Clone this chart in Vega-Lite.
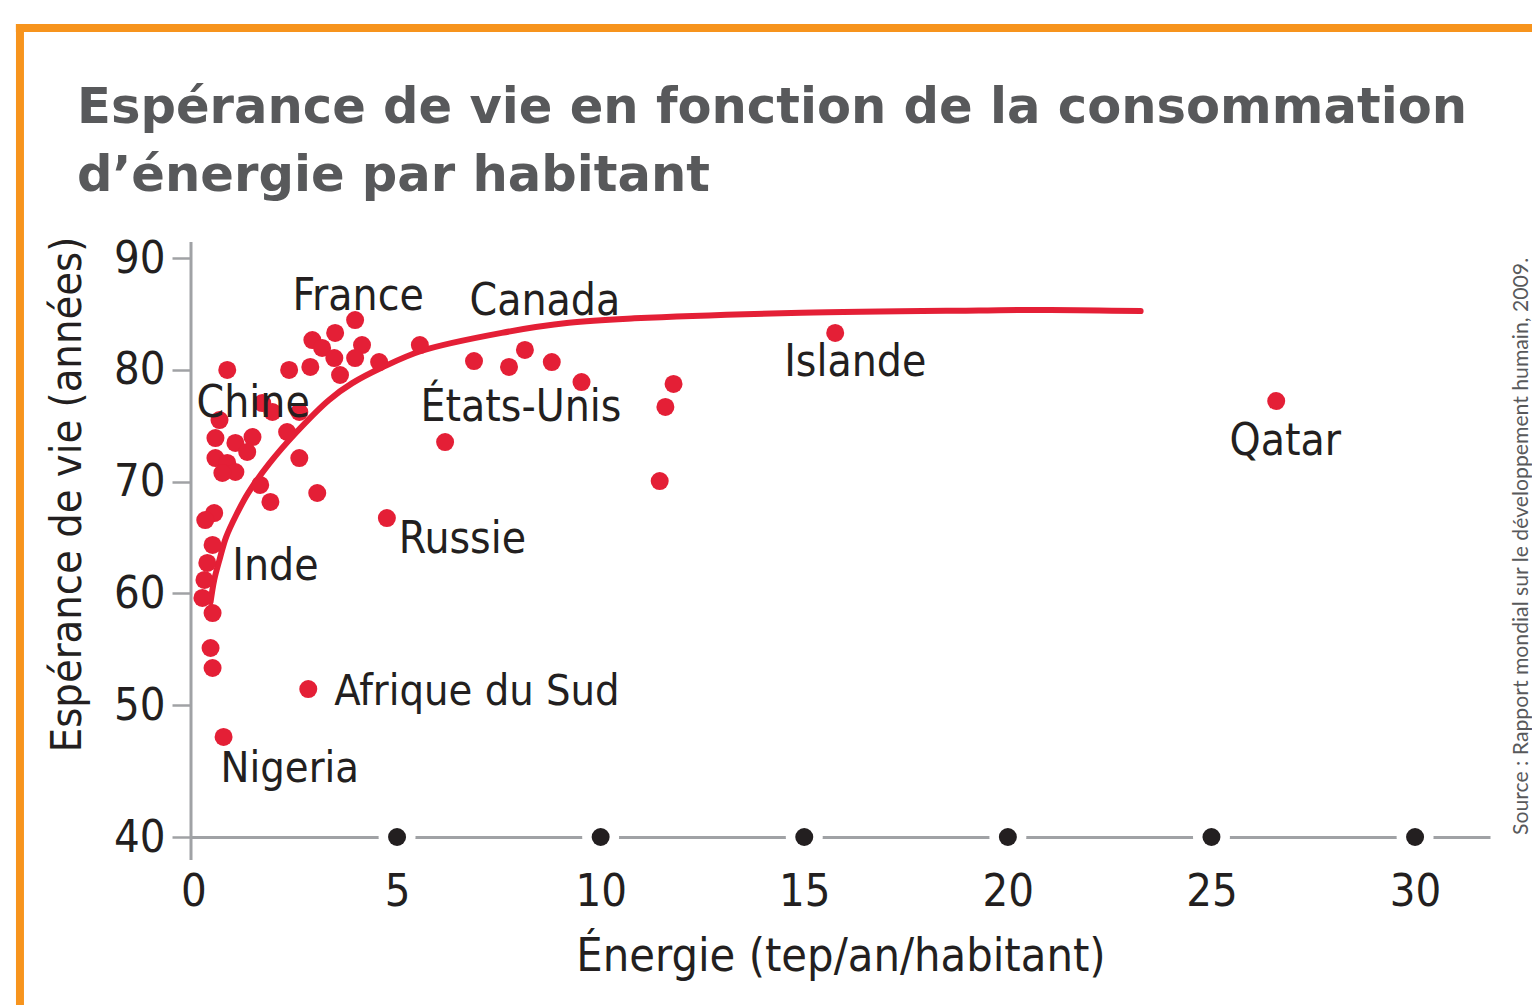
{
  "$schema": "https://vega.github.io/schema/vega-lite/v6.json",
  "width": 1299,
  "height": 579,
  "autosize": {"type": "none"},
  "padding": {"left": 191, "top": 258, "right": 42, "bottom": 168},
  "background": "white",
  "config": {"view": {"stroke": null}},
  "title": {
    "text": ["Espérance de vie en fonction de la consommation", "d’énergie par habitant"],
    "anchor": "start",
    "frame": "group",
    "dx": -114,
    "dy": 182,
    "offset": 0,
    "font": "DejaVu Sans",
    "fontSize": 49.6,
    "fontWeight": "bold",
    "color": "#58595b",
    "lineHeight": 68
  },
  "datasets": {
    "pays": [
      {"x": 3.97, "y": 84.45, "pays": "France"},
      {"x": 3.48, "y": 83.29, "pays": ""},
      {"x": 2.92, "y": 82.66, "pays": ""},
      {"x": 3.16, "y": 81.95, "pays": ""},
      {"x": 4.14, "y": 82.21, "pays": ""},
      {"x": 3.46, "y": 81.05, "pays": ""},
      {"x": 3.97, "y": 81.05, "pays": ""},
      {"x": 3.60, "y": 79.53, "pays": ""},
      {"x": 4.56, "y": 80.69, "pays": ""},
      {"x": 5.56, "y": 82.21, "pays": ""},
      {"x": 2.87, "y": 80.25, "pays": ""},
      {"x": 2.35, "y": 79.98, "pays": ""},
      {"x": 0.83, "y": 79.98, "pays": ""},
      {"x": 1.69, "y": 77.02, "pays": ""},
      {"x": 1.94, "y": 76.22, "pays": ""},
      {"x": 2.60, "y": 76.22, "pays": ""},
      {"x": 0.64, "y": 75.50, "pays": ""},
      {"x": 2.30, "y": 74.43, "pays": ""},
      {"x": 0.54, "y": 73.89, "pays": ""},
      {"x": 1.45, "y": 73.98, "pays": ""},
      {"x": 1.03, "y": 73.45, "pays": ""},
      {"x": 1.32, "y": 72.64, "pays": "Chine"},
      {"x": 0.54, "y": 72.10, "pays": ""},
      {"x": 0.83, "y": 71.66, "pays": ""},
      {"x": 1.03, "y": 70.85, "pays": ""},
      {"x": 0.71, "y": 70.76, "pays": ""},
      {"x": 2.60, "y": 72.10, "pays": ""},
      {"x": 1.64, "y": 69.69, "pays": ""},
      {"x": 1.89, "y": 68.17, "pays": ""},
      {"x": 3.04, "y": 68.97, "pays": ""},
      {"x": 4.75, "y": 66.73, "pays": "Russie"},
      {"x": 0.51, "y": 67.18, "pays": ""},
      {"x": 0.29, "y": 66.55, "pays": ""},
      {"x": 0.47, "y": 64.32, "pays": ""},
      {"x": 0.34, "y": 62.71, "pays": "Inde"},
      {"x": 0.27, "y": 61.19, "pays": ""},
      {"x": 0.22, "y": 59.58, "pays": ""},
      {"x": 0.47, "y": 58.23, "pays": ""},
      {"x": 0.42, "y": 55.10, "pays": ""},
      {"x": 0.47, "y": 53.31, "pays": ""},
      {"x": 2.82, "y": 51.43, "pays": "Afrique du Sud"},
      {"x": 0.74, "y": 47.58, "pays": "Nigeria"},
      {"x": 6.89, "y": 80.78, "pays": ""},
      {"x": 7.75, "y": 80.25, "pays": "États-Unis"},
      {"x": 8.14, "y": 81.77, "pays": "Canada"},
      {"x": 8.80, "y": 80.69, "pays": ""},
      {"x": 9.53, "y": 78.90, "pays": ""},
      {"x": 6.18, "y": 73.53, "pays": ""},
      {"x": 11.79, "y": 78.73, "pays": ""},
      {"x": 11.59, "y": 76.67, "pays": ""},
      {"x": 11.45, "y": 70.04, "pays": ""},
      {"x": 15.76, "y": 83.29, "pays": "Islande"},
      {"x": 26.59, "y": 77.20, "pays": "Qatar"}
    ],
    "courbe": [
      {"x": 0.42, "y": 59.2},
      {"x": 0.51, "y": 61.2},
      {"x": 0.64, "y": 63.0},
      {"x": 0.80, "y": 65.0},
      {"x": 1.05, "y": 67.0},
      {"x": 1.35, "y": 69.0},
      {"x": 1.86, "y": 71.6},
      {"x": 2.5, "y": 74.3},
      {"x": 3.33, "y": 77.3},
      {"x": 3.9, "y": 78.8},
      {"x": 4.63, "y": 80.2},
      {"x": 5.61, "y": 81.7},
      {"x": 7.57, "y": 83.3},
      {"x": 9.22, "y": 84.2},
      {"x": 10.83, "y": 84.6},
      {"x": 14.93, "y": 85.1},
      {"x": 19.29, "y": 85.3},
      {"x": 21.05, "y": 85.35},
      {"x": 23.26, "y": 85.25}
    ],
    "graduations": [
      {"x": 5}, {"x": 10}, {"x": 15}, {"x": 20}, {"x": 25}, {"x": 30}
    ],
    "vide": [{}]
  },
  "layer": [
    {
      "data": {"name": "vide"},
      "mark": {"type": "rule", "color": "#f7941d", "strokeWidth": 8, "clip": false},
      "encoding": {
        "x": {"datum": -4.36, "type": "quantitative"},
        "x2": {"datum": 33.1},
        "y": {"datum": 110.58, "type": "quantitative"}
      }
    },
    {
      "data": {"name": "vide"},
      "mark": {"type": "rule", "color": "#f7941d", "strokeWidth": 8, "clip": false},
      "encoding": {
        "x": {"datum": -4.26, "type": "quantitative"},
        "y": {"datum": 110.94, "type": "quantitative"},
        "y2": {"datum": 26.9}
      }
    },
    {
      "data": {"name": "vide"},
      "mark": {"type": "rule", "color": "#a0a2a5", "strokeWidth": 3, "clip": false},
      "encoding": {
        "x": {"datum": -0.06, "type": "quantitative"},
        "y": {"datum": 91.43, "type": "quantitative"},
        "y2": {"datum": 38.26}
      }
    },
    {
      "data": {"name": "courbe"},
      "mark": {"type": "line", "color": "#e41f36", "strokeWidth": 6, "interpolate": "catmull-rom", "strokeCap": "round"},
      "encoding": {
        "x": {"field": "x", "type": "quantitative"},
        "y": {"field": "y", "type": "quantitative"}
      }
    },
    {
      "data": {"name": "pays"},
      "mark": {"type": "point", "shape": "circle", "filled": true, "size": 324, "color": "#e41f36", "opacity": 1},
      "encoding": {
        "x": {
          "field": "x",
          "type": "quantitative",
          "scale": {"domain": [-0.06, 31.84], "nice": false, "zero": false},
          "axis": {
            "title": "Énergie (tep/an/habitant)",
            "values": [0, 5, 10, 15, 20, 25, 30],
            "grid": false,
            "ticks": false,
            "domain": true,
            "domainColor": "#a0a2a5",
            "domainWidth": 3,
            "labelFont": "DejaVu Sans Condensed",
            "labelFontSize": 45,
            "labelColor": "#231f20",
            "labelBaseline": "alphabetic",
            "labelPadding": 68,
            "labelFlush": false,
            "labelOverlap": false,
            "titleFont": "DejaVu Sans Condensed",
            "titleFontSize": 46.5,
            "titleFontWeight": "normal",
            "titleColor": "#231f20",
            "titleBaseline": "alphabetic",
            "titleY": 133
          }
        },
        "y": {
          "field": "y",
          "type": "quantitative",
          "scale": {"domain": [40, 50, 90], "range": [579, 447, 0], "nice": false, "zero": false},
          "axis": {
            "title": "Espérance de vie (années)",
            "values": [40, 50, 60, 70, 80, 90],
            "grid": false,
            "domain": false,
            "ticks": true,
            "tickSize": 19,
            "tickWidth": 2.5,
            "tickColor": "#a0a2a5",
            "labelFont": "DejaVu Sans Condensed",
            "labelFontSize": 45,
            "labelColor": "#231f20",
            "labelPadding": 7,
            "labelOverlap": false,
            "labelFlush": false,
            "titleFont": "DejaVu Sans Condensed",
            "titleFontSize": 43,
            "titleFontWeight": "normal",
            "titleColor": "#231f20",
            "titleAngle": 270,
            "titleAlign": "center",
            "titleBaseline": "middle",
            "titleX": -124,
            "titleY": 236
          }
        }
      }
    },
    {
      "data": {"name": "graduations"},
      "mark": {"type": "point", "shape": "circle", "filled": true, "size": 1369, "color": "white", "opacity": 1, "clip": false},
      "encoding": {
        "x": {"field": "x", "type": "quantitative"},
        "y": {"datum": 40, "type": "quantitative"}
      }
    },
    {
      "data": {"name": "graduations"},
      "mark": {"type": "point", "shape": "circle", "filled": true, "size": 324, "color": "#231f20", "opacity": 1, "clip": false},
      "encoding": {
        "x": {"field": "x", "type": "quantitative"},
        "y": {"datum": 40, "type": "quantitative"}
      }
    },
    {
      "data": {"name": "pays"},
      "transform": [{"filter": "datum.pays === 'France'"}],
      "mark": {"type": "text", "align": "center", "baseline": "alphabetic", "dx": 3, "dy": -10, "font": "DejaVu Sans Condensed", "fontSize": 44, "color": "#231f20"},
      "encoding": {"x": {"field": "x", "type": "quantitative"}, "y": {"field": "y", "type": "quantitative"}, "text": {"field": "pays"}}
    },
    {
      "data": {"name": "pays"},
      "transform": [{"filter": "datum.pays === 'Canada'"}],
      "mark": {"type": "text", "align": "center", "baseline": "alphabetic", "dx": 20, "dy": -35, "font": "DejaVu Sans Condensed", "fontSize": 44, "color": "#231f20"},
      "encoding": {"x": {"field": "x", "type": "quantitative"}, "y": {"field": "y", "type": "quantitative"}, "text": {"field": "pays"}}
    },
    {
      "data": {"name": "pays"},
      "transform": [{"filter": "datum.pays === 'États-Unis'"}],
      "mark": {"type": "text", "align": "center", "baseline": "alphabetic", "dx": 12, "dy": 54, "font": "DejaVu Sans Condensed", "fontSize": 44, "color": "#231f20"},
      "encoding": {"x": {"field": "x", "type": "quantitative"}, "y": {"field": "y", "type": "quantitative"}, "text": {"field": "pays"}}
    },
    {
      "data": {"name": "pays"},
      "transform": [{"filter": "datum.pays === 'Chine'"}],
      "mark": {"type": "text", "align": "center", "baseline": "alphabetic", "dx": 6, "dy": -35, "font": "DejaVu Sans Condensed", "fontSize": 44, "color": "#231f20"},
      "encoding": {"x": {"field": "x", "type": "quantitative"}, "y": {"field": "y", "type": "quantitative"}, "text": {"field": "pays"}}
    },
    {
      "data": {"name": "pays"},
      "transform": [{"filter": "datum.pays === 'Inde'"}],
      "mark": {"type": "text", "align": "left", "baseline": "alphabetic", "dx": 25, "dy": 17, "font": "DejaVu Sans Condensed", "fontSize": 44, "color": "#231f20"},
      "encoding": {"x": {"field": "x", "type": "quantitative"}, "y": {"field": "y", "type": "quantitative"}, "text": {"field": "pays"}}
    },
    {
      "data": {"name": "pays"},
      "transform": [{"filter": "datum.pays === 'Russie'"}],
      "mark": {"type": "text", "align": "left", "baseline": "alphabetic", "dx": 12, "dy": 35, "font": "DejaVu Sans Condensed", "fontSize": 44, "color": "#231f20"},
      "encoding": {"x": {"field": "x", "type": "quantitative"}, "y": {"field": "y", "type": "quantitative"}, "text": {"field": "pays"}}
    },
    {
      "data": {"name": "pays"},
      "transform": [{"filter": "datum.pays === 'Afrique du Sud'"}],
      "mark": {"type": "text", "align": "left", "baseline": "alphabetic", "dx": 26, "dy": 16, "font": "DejaVu Sans Condensed", "fontSize": 43, "color": "#231f20"},
      "encoding": {"x": {"field": "x", "type": "quantitative"}, "y": {"field": "y", "type": "quantitative"}, "text": {"field": "pays"}}
    },
    {
      "data": {"name": "pays"},
      "transform": [{"filter": "datum.pays === 'Nigeria'"}],
      "mark": {"type": "text", "align": "left", "baseline": "alphabetic", "dx": -3, "dy": 45, "font": "DejaVu Sans Condensed", "fontSize": 43, "color": "#231f20"},
      "encoding": {"x": {"field": "x", "type": "quantitative"}, "y": {"field": "y", "type": "quantitative"}, "text": {"field": "pays"}}
    },
    {
      "data": {"name": "pays"},
      "transform": [{"filter": "datum.pays === 'Islande'"}],
      "mark": {"type": "text", "align": "center", "baseline": "alphabetic", "dx": 20, "dy": 43, "font": "DejaVu Sans Condensed", "fontSize": 44, "color": "#231f20"},
      "encoding": {"x": {"field": "x", "type": "quantitative"}, "y": {"field": "y", "type": "quantitative"}, "text": {"field": "pays"}}
    },
    {
      "data": {"name": "pays"},
      "transform": [{"filter": "datum.pays === 'Qatar'"}],
      "mark": {"type": "text", "align": "center", "baseline": "alphabetic", "dx": 9, "dy": 54, "font": "DejaVu Sans Condensed", "fontSize": 44, "color": "#231f20"},
      "encoding": {"x": {"field": "x", "type": "quantitative"}, "y": {"field": "y", "type": "quantitative"}, "text": {"field": "pays"}}
    },
    {
      "data": {"name": "vide"},
      "mark": {"type": "text", "text": "Source : Rapport mondial sur le développement humain, 2009.", "angle": 270, "align": "left", "baseline": "middle", "font": "Lato", "fontSize": 21.2, "color": "#58595b", "clip": false},
      "encoding": {
        "x": {"datum": 32.63, "type": "quantitative"},
        "y": {"datum": 40.15, "type": "quantitative"}
      }
    }
  ]
}
